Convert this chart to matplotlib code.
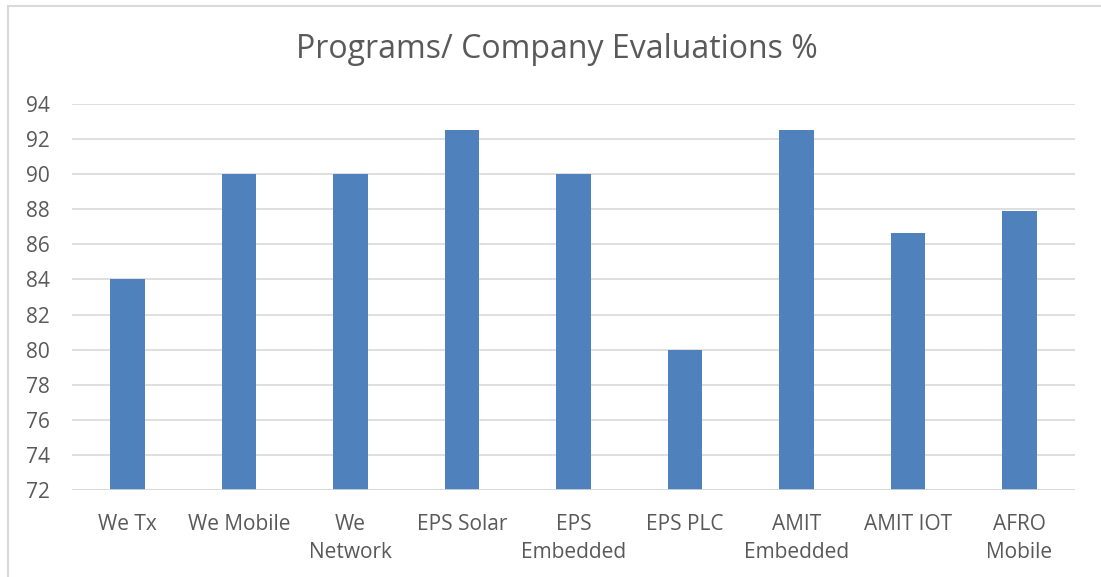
import matplotlib.pyplot as plt
from matplotlib.patches import Rectangle

programs = ['We Tx', 'We Mobile', 'We\nNetwork', 'EPS Solar', 'EPS\nEmbedded',
            'EPS PLC', 'AMIT\nEmbedded', 'AMIT IOT', 'AFRO\nMobile']
scores = [84, 90, 90, 92.5, 90, 80, 92.5, 86.67, 87.9]
y_ticks = list(range(72, 95, 2))

plt.rcParams['font.family'] = ['Open Sans', 'DejaVu Sans']
text_color = '#595959'

fig = plt.figure(figsize=(11.01, 5.77), dpi=100)
W, H = 1101, 577
ax = fig.add_axes([72 / W, 1 - 490 / H, (1075 - 72) / W, (490 - 104) / H])

x = range(len(programs))
ax.bar(x, scores, width=0.31, color='#4f81bd', zorder=3)

ax.set_ylim(72, 94)
ax.set_xlim(-0.5, len(programs) - 0.5)
ax.set_yticks(y_ticks)
ax.set_xticks(list(x))
ax.set_xticklabels(programs, linespacing=1.45)
ax.tick_params(axis='both', length=0, labelsize=15, colors=text_color)
ax.tick_params(axis='x', pad=17)
ax.tick_params(axis='y', pad=16)
ax.grid(axis='y', color='#d9d9d9', linewidth=1.2, zorder=0)
for s in ax.spines.values():
    s.set_visible(False)
ax.axhline(72, color='#d9d9d9', linewidth=1.2, zorder=4)

fig.text(557 / W, 1 - 49 / H, 'Programs/ Company Evaluations %', ha='center', va='center',
         fontsize=23, color=text_color)

# chart area border
fig.patches.append(Rectangle((8 / W, -0.1), 1.2, 1 - 6 / H + 0.1, transform=fig.transFigure,
                             fill=False, edgecolor='#d9d9d9', linewidth=1.5))

fig.savefig('out.png', dpi=100)
